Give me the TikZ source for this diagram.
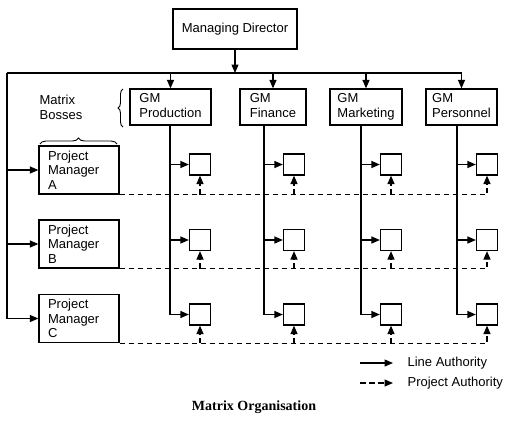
\documentclass[tikz,border=0pt]{standalone}
\usepackage{fontspec}
\setmainfont{Liberation Sans}
\newfontfamily\titlefont{Liberation Serif}
\usetikzlibrary{arrows.meta,decorations.pathreplacing}
\begin{document}
\begin{tikzpicture}[x=1pt,y=-1pt,
  font=\fontsize{13}{14.5}\selectfont,
  line width=1.25pt,
  box/.style={draw, inner sep=0pt, align=left},
  gmbox/.style={box, minimum height=36pt},
  pmbox/.style={box, text width=62pt, inner xsep=9pt, minimum height=48pt},
  sbox/.style={draw, minimum size=21pt, inner sep=0pt},
  la/.style={-{Triangle[length=8.5pt,width=7pt]}},
  pa/.style={dash pattern=on 5.5pt off 3.5pt, -{Triangle[length=8.5pt,width=7pt]}},
  brc/.style={decorate, decoration={brace, amplitude=6pt}, line width=0.9pt}
]
\useasboundingbox (0,0) rectangle (518,432);

% top
\node[box, align=center, minimum width=124pt, minimum height=40pt] (md) at (235,29) {Managing Director};
\coordinate (busl) at (7,73);
\coordinate (busr) at (461.5,73);

% GM boxes
\node[gmbox, minimum width=81pt] (gm1) at (170.5,107) {GM\\Production\vphantom{g}};
\node[gmbox, minimum width=66pt] (gm2) at (273,107) {GM\\Finance\vphantom{g}};
\node[gmbox, minimum width=72pt] (gm3) at (366,107) {GM\\Marketing};
\node[gmbox, minimum width=71pt] (gm4) at (461.5,107) {GM\\Personnel\vphantom{g}};

% project managers
\node[pmbox] (pmA) at (79,170) {Project\\Manager\\A};
\node[pmbox] (pmB) at (79,244) {Project\\Manager\\B};
\node[pmbox] (pmC) at (79,318.5) {Project\\Manager\\C};

\node[align=left, inner sep=0pt, anchor=west] (mb) at (39,107.5) {Matrix\\Bosses};

% braces
\coordinate (b1s) at (40,144);
\coordinate (b1e) at (117,144);
\draw[brc] (b1s) -- (b1e);
\coordinate (b2s) at (123,127);
\coordinate (b2e) at (123,89);
\draw[brc, decoration={brace, amplitude=5pt}] (b2s) -- (b2e);

% vertical line starts
\coordinate (v1) at (170,125);
\coordinate (v2) at (264,125);
\coordinate (v3) at (361,125);
\coordinate (v4) at (457,125);

% small boxes
\foreach \c/\x in {1/200,2/294,3/391,4/487}{
  \node[sbox] (sA\c) at (\x,164.5) {};
  \node[sbox] (sB\c) at (\x,240) {};
  \node[sbox] (sC\c) at (\x,314.5) {};
}

% line authority
\draw[la] (md) -- (md |- busl);
\draw (busl) -- (busr);
\foreach \g in {1,2,3,4}{
  \draw[la] (gm\g.north |- busl) -- (gm\g.north);
}
\draw[la] (busl) |- (pmC);
\draw[la] (busl |- pmA) -- (pmA);
\draw[la] (busl |- pmB) -- (pmB);

\foreach \c in {1,2,3,4}{
  \draw[la] (v\c) |- (sC\c);
  \draw[la] (v\c |- sA\c) -- (sA\c);
  \draw[la] (v\c |- sB\c) -- (sB\c);
}

% project authority
\foreach \r in {A,B,C}{
  \draw[pa] (pm\r.south east) -| (s\r4);
  \foreach \c in {1,2,3}{
    \draw[pa] (pm\r.south east -| s\r\c) -- (s\r\c);
  }
}

% legend
\coordinate (l1s) at (360,363);
\coordinate (l1e) at (393,363);
\coordinate (l2s) at (360,383);
\coordinate (l2e) at (393,383);
\draw[la] (l1s) -- (l1e);
\draw[pa] (l2s) -- (l2e);
\node[anchor=west, inner sep=0pt] (lt1) at (407,363) {Line Authority};
\node[anchor=west, inner sep=0pt] (lt2) at (407,383) {Project Authority};

% title
\node[inner sep=0pt] (title) at (254,407) {\titlefont\fontsize{14}{16}\selectfont\bfseries Matrix Organisation};
\end{tikzpicture}
\end{document}
